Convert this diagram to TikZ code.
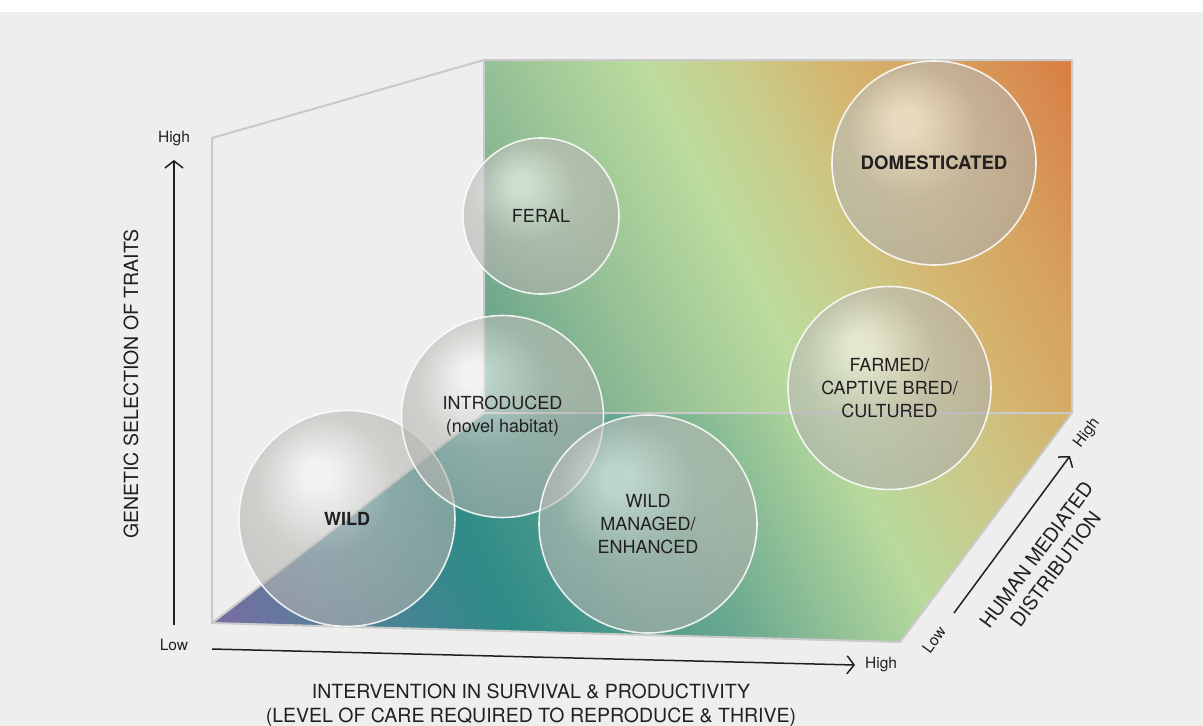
\documentclass[tikz,border=0pt]{standalone}
\usepackage{fontspec}
\setmainfont{TeX Gyre Heros}
\usepackage{tikz}
\usetikzlibrary{arrows.meta,calc,positioning}
\definecolor{pagegrey}{HTML}{EEEEEE}
\definecolor{edgegrey}{HTML}{CACACA}
\definecolor{inkdark}{HTML}{231F20}
\definecolor{wallteal}{HTML}{5A9A88}
\definecolor{wallmint}{HTML}{95C096}
\definecolor{wallgreen}{HTML}{BCDC9D}
\definecolor{wallolive}{HTML}{C9CC8A}
\definecolor{walltan}{HTML}{D4B670}
\definecolor{wallamber}{HTML}{D6A25E}
\definecolor{wallorange}{HTML}{D97A42}
\definecolor{floorpurple}{HTML}{7C6BA2}
\definecolor{floorblue}{HTML}{52809A}
\definecolor{floorteal}{HTML}{2E8B87}
\definecolor{floorsea}{HTML}{6AA890}
\definecolor{floorgreen}{HTML}{B8DA9C}
\definecolor{floorolive}{HTML}{CBC888}
\definecolor{floortan}{HTML}{D4B26C}
\definecolor{bubblehi}{HTML}{F6F6F4}
\definecolor{bubblemid}{HTML}{BDBDB9}
\definecolor{bubblelow}{HTML}{A4A4A0}
\pgfdeclarehorizontalshading{wallshade}{100bp}{color(0bp)=(wallteal); color(25bp)=(wallteal);
  color(37bp)=(wallmint); color(47bp)=(wallgreen); color(53bp)=(wallolive); color(59bp)=(walltan);
  color(66bp)=(wallamber); color(75bp)=(wallorange); color(100bp)=(wallorange)}
\pgfdeclarehorizontalshading{floorshade}{100bp}{color(0bp)=(floorpurple); color(26bp)=(floorpurple);
  color(33bp)=(floorblue); color(41bp)=(floorteal); color(52bp)=(floorsea); color(62bp)=(floorgreen);
  color(68bp)=(floorolive); color(74bp)=(floortan); color(100bp)=(floortan)}
\pgfdeclareradialshading{glassball}{\pgfpoint{-7.5bp}{11bp}}{color(0bp)=(bubblehi); color(3bp)=(bubblehi);
  color(16bp)=(bubblemid); color(40bp)=(bubblelow); color(50bp)=(bubblelow)}
\newcommand{\bubblefont}{\fontsize{18}{23}\selectfont}
\newcommand{\titlefont}{\fontsize{19.5}{24}\selectfont}
\newcommand{\tickfont}{\fontsize{15.5}{18}\selectfont}
\tikzset{
  edge line/.style  = {edgegrey, line width=2pt, line join=round},
  axis arrow/.style = {-{Straight Barb[length=7pt,width=18pt]}, inkdark, line width=1.5pt},
  sphere/.style     = {circle, shade, shading=glassball, fill opacity=0.62, text opacity=1,
                       draw=white, draw opacity=0.85, line width=1.6pt, text=inkdark,
                       align=center, font=\bubblefont, inner sep=0pt},
  axis label/.style = {text=inkdark, font=\titlefont, align=center, inner sep=1pt},
  tick label/.style = {text=inkdark, font=\tickfont, inner sep=1pt},
}

\begin{document}
\begin{tikzpicture}[x=1pt, y=-1pt]
  \useasboundingbox (0,0) rectangle (1203,726);
  \fill[white] (0,0) rectangle (1203,12);
  \fill[pagegrey] (0,12) rectangle (1203,726);
  \coordinate (sidetop) at (212,138);
  \coordinate (floorleft) at (212,623);
  \coordinate (walltl) at (484,60);
  \coordinate (walltr) at (1072,60);
  \coordinate (wallbl) at (484,413);
  \coordinate (wallbr) at (1072,413);
  \coordinate (floorright) at (900,642);
  \begin{scope}
    \clip (wallbl) -- (walltl) -- (walltr) -- (wallbr) -- cycle;
    \shade[shading=wallshade, shading angle=27] (428,-114) rectangle (1128,586);
  \end{scope}
  \begin{scope}
    \clip (floorleft) -- (wallbl) -- (wallbr) -- (floorright) -- cycle;
    \shade[shading=floorshade, shading angle=27] (192,77.5) rectangle (1092,977.5);
  \end{scope}
  \draw[edge line] (floorleft) -- (sidetop) -- (walltl) -- (walltr) -- (wallbr) -- (floorright) -- cycle;
  \draw[edge line] (floorleft) -- (wallbl) -- (wallbr) (wallbl) -- (walltl);

  \node[sphere, minimum size=216pt] (wild) at (347,518.5) {\bfseries WILD};
  \node[sphere, minimum size=202pt] (introduced) at (502.5,416.5) {INTRODUCED\\(novel habitat)};
  \node[sphere, minimum size=218pt] (managed) at (648,524) {WILD\\MANAGED/\\ENHANCED};
  \node[sphere, minimum size=156pt] (feral) at (541,216) {FERAL};
  \node[sphere, minimum size=203pt] (farmed) at (889.5,388) {FARMED/\\CAPTIVE BRED/\\CULTURED};
  \node[sphere, minimum size=204pt, font=\fontsize{18.6}{23}\selectfont] (domesticated) at (934,163) {\bfseries DOMESTICATED};

  \coordinate (ystart) at (174,625);
  \coordinate (yend) at (174,160);
  \coordinate (xstart) at (212,649);
  \coordinate (xend) at (855,665);
  \coordinate (zstart) at (954,613);
  \coordinate (zend) at (1070,456);
  \draw[axis arrow] (ystart) -- (yend);
  \draw[axis arrow] (xstart) -- (xend);
  \draw[axis arrow] (zstart) -- (zend);
  \node[tick label] (ylow) at (174,645) {Low};
  \node[tick label] (yhigh) at (174,139) {High};
  \node[tick label, anchor=west] (xhigh) at (864,665) {High};
  \node[tick label, rotate=53.5] (zlow) at (934,640) {Low};
  \node[tick label, rotate=53.5] (zhigh) at (1087,433) {High};
  \node[axis label, rotate=90] (ytitle) at (131,384) {GENETIC SELECTION OF TRAITS};
  \node[axis label] (xtitle) at (531,705) {INTERVENTION IN SURVIVAL \& PRODUCTIVITY\\(LEVEL OF CARE REQUIRED TO REPRODUCE \& THRIVE)};
  \node[axis label, rotate=53.5] (ztitle) at (1046,562) {HUMAN MEDIATED\\DISTRIBUTION};
\end{tikzpicture}
\end{document}
